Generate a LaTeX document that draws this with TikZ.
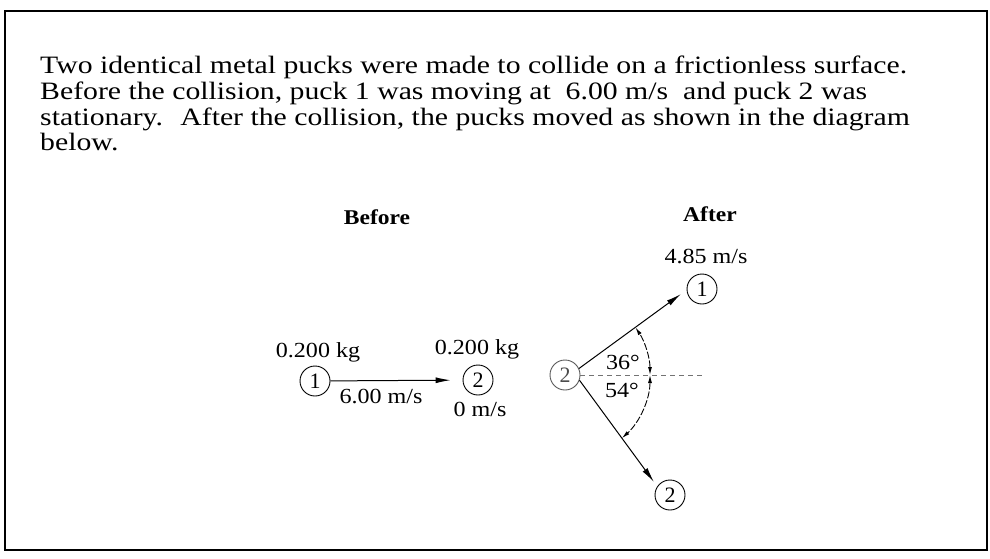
\documentclass[tikz,border=0pt]{standalone}
\usepackage{fontspec}
\setmainfont{Liberation Serif}
\newfontfamily\bodyfont[FakeStretch=1.19]{Liberation Serif}
\newfontfamily\lblfont[FakeStretch=1.12]{Liberation Serif}
\usetikzlibrary{arrows.meta}
\begin{document}
\begin{tikzpicture}[x=1pt,y=-1pt,
  body/.style={anchor=base west, inner sep=0pt, font=\bodyfont\fontsize{25}{30}\selectfont},
  lbl/.style={inner sep=0pt, font=\lblfont\fontsize{21.5}{24}\selectfont},
  head/.style={inner sep=0pt, font=\lblfont\bfseries\fontsize{21}{24}\selectfont},
  puck/.style={circle, draw, line width=0.9pt, minimum size=30pt, inner sep=0pt, font=\fontsize{22}{24}\selectfont},
  arr/.style={line width=1pt, -{Latex[length=15pt,width=6pt]}},
  angarr/.style={line width=0.9pt, dash pattern=on 7pt off 2pt, {Latex[length=8pt,width=4pt]}-{Latex[length=8pt,width=4pt]}}
]
\useasboundingbox (0,0) rectangle (990,558);
\draw[line width=1.4pt] (5,11) rectangle (987,550);
% question text
\node[body] (l1) at (40,73) {Two identical metal pucks were made to collide on a frictionless surface.};
\node[body] (l2) at (40,99) {Before the collision, puck 1 was moving at \ 6.00 m/s \ and puck 2 was};
\node[body] (l3) at (40,125) {stationary. \ After the collision, the pucks moved as shown in the diagram};
\node[body] (l4) at (40,150) {below.};
% headings
\node[head] (hb) at (377,217) {Before};
\node[head] (ha) at (710,214) {After};
% before
\node[lbl] (m1) at (318,352) {0.200 kg};
\node[puck] (b1) at (315,381) {1};
\node[puck] (b2) at (478,380) {2};
\node[lbl] (m2) at (477,349) {0.200 kg};
\draw[arr, shorten >=12pt] (b1) -- (b2);
\node[lbl] (v1) at (381,396) {6.00 m/s};
\node[lbl] (v2) at (480,409) {0 m/s};
% after
\node[puck, draw=black!65, text=black!70] (a2) at (565,375) {2};
\node[puck] (a1) at (702,289) {1};
\node[puck] (a3) at (670,495) {2};
\node[lbl] (v3) at (706,256) {4.85 m/s};
\coordinate (t1) at (681,294);
\coordinate (t2) at (654,482);
\coordinate (dl) at (702,375);
\draw[arr] (a2.25) -- (t1);
\draw[arr] (a2.-20) -- (t2);
\draw[black!55, line width=0.8pt, dash pattern=on 5pt off 4pt] (a2.east) -- (dl);
\draw[angarr] (a2.center) ++(85,0) arc[start angle=0, end angle=-34, radius=85];
\draw[angarr] (a2.center) ++(85,0) arc[start angle=0, end angle=48, radius=85];
\node[lbl] (g1) at (623,362) {36°};
\node[lbl] (g2) at (622,390) {54°};
\end{tikzpicture}
\end{document}
